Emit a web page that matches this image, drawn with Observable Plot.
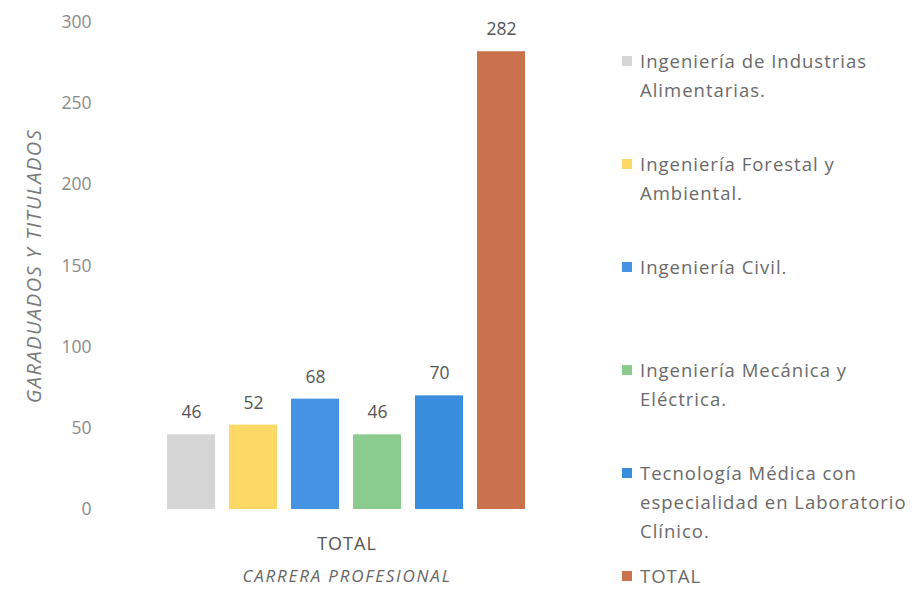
<!DOCTYPE html>
<html>
<head>
<meta charset="utf-8">
<script src="https://cdn.jsdelivr.net/npm/d3@7"></script>
<script src="https://cdn.jsdelivr.net/npm/@observablehq/plot@0.6"></script>
<style>
  body { margin: 0; background: #fff; font-family: "Open Sans", Lato, sans-serif; }
  #wrap { position: relative; width: 918px; height: 592px; overflow: hidden; }
  #chart { position: absolute; left: 0; top: 0; }
  #legend { position: absolute; left: 622px; top: 0; width: 296px; height: 592px; }
  .item { position: absolute; left: 0; display: flex; align-items: flex-start; font-size: 18.5px; line-height: 29px; color: #6a6a6a; letter-spacing: 1px; }
  .sw { width: 10px; height: 10px; margin-top: 10px; margin-right: 8px; flex: none; }
  .lbl { white-space: pre-line; }
  g[aria-label="y-axis label"] text { font-style: italic; font-size: 20px; fill: #7a7a7a; letter-spacing: 1.5px; }
  g[aria-label="y-axis tick label"] text { fill: #8a8a8a; }
  g[aria-label="fx-axis label"] text { font-style: italic; font-size: 17px; fill: #666; letter-spacing: 1.8px; }
  g[aria-label="fx-axis tick label"] text { fill: #555; font-size: 18px; letter-spacing: 1px; }
</style>
</head>
<body>
<div id="wrap"><div id="chart"></div><div id="legend"></div></div>
<script>
const group = "TOTAL";
const series = [
  "Ingeniería de Industrias Alimentarias.",
  "Ingeniería Forestal y Ambiental.",
  "Ingeniería Civil.",
  "Ingeniería Mecánica  y Eléctrica.",
  "Tecnología Médica con especialidad en Laboratorio Clínico.",
  "TOTAL"
];
const legendLines = [
  "Ingeniería de Industrias\nAlimentarias.",
  "Ingeniería Forestal y\nAmbiental.",
  "Ingeniería Civil.",
  "Ingeniería Mecánica  y\nEléctrica.",
  "Tecnología Médica con\nespecialidad en Laboratorio\nClínico.",
  "TOTAL"
];
const values = [46, 52, 68, 46, 70, 282];
const colors = ["#d5d5d5", "#fbd964", "#4692e3", "#8ccb8e", "#3a8ddc", "#ca724d"];
const yTicks = [0, 50, 100, 150, 200, 250, 300];

const data = series.map((s, i) => ({group, serie: s, value: values[i]}));

const W = 612;
const chart = Plot.plot({
  width: W,
  height: 592,
  marginTop: 22,
  marginBottom: 83,
  marginLeft: 158,
  marginRight: W - 535,
  style: {fontFamily: "'Open Sans', Lato, sans-serif", fontSize: "17.5px", color: "#808080", background: "transparent"},
  fx: {domain: [group], padding: 0, label: "CARRERA PROFESIONAL", axis: "bottom", tickSize: 0, tickPadding: 28, labelOffset: 72, labelAnchor: "center"},
  x: {domain: series, paddingInner: 0.22, paddingOuter: 0.11, axis: null},
  y: {domain: [0, 300], ticks: yTicks, label: "GARADUADOS Y TITULADOS", labelAnchor: "center", labelArrow: "none", labelOffset: 132, tickSize: 0, tickPadding: 67},
  color: {domain: series, range: colors},
  marks: [
    Plot.barY(data, {fx: "group", x: "serie", y: "value", fill: "serie"}),
    Plot.text(data, {fx: "group", x: "serie", y: "value", text: d => String(d.value), dy: -22, fontSize: 17.5, fill: "#555"})
  ]
});
document.getElementById("chart").appendChild(chart);

const legend = document.getElementById("legend");
series.forEach((s, i) => {
  const it = document.createElement("div");
  it.className = "item";
  it.style.top = (46 + i * 103) + "px";
  const sw = document.createElement("div");
  sw.className = "sw";
  sw.style.background = colors[i];
  const lb = document.createElement("div");
  lb.className = "lbl";
  lb.textContent = legendLines[i];
  it.appendChild(sw); it.appendChild(lb);
  legend.appendChild(it);
});
</script>
</body>
</html>
